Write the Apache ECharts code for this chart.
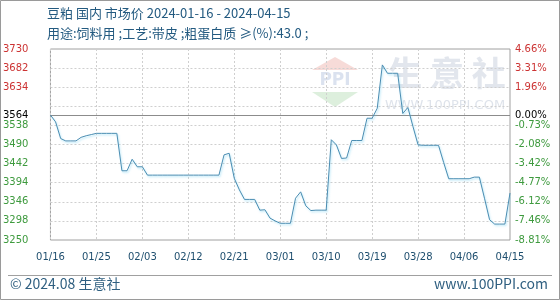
<!DOCTYPE html>
<html>
<head>
<meta charset="utf-8">
<script src="https://cdn.jsdelivr.net/npm/echarts@6/dist/echarts.min.js"></script>
<style>
html,body{margin:0;padding:0;background:#fff;}
#chart{width:560px;height:300px;}
</style>
</head>
<body>
<div id="chart"></div>
<script>
// ---- data ----
const titleLine1 = '豆粕 国内 市场价 2024-01-16 - 2024-04-15';
const titleLine2 = '用途:饲料用 ;工艺:带皮 ;粗蛋白质 ≥(%):43.0 ;';
const footerLeft = '© 2024.08 生意社';
const footerRight = 'www.100PPI.com';
const basePrice = 3564;
const startDate = '2024-01-16';
const dayCount = 91;
const prices = [
  3564,3547,3505,3499,3499,3499,3508,3512,3515,3518,
  3518,3518,3518,3518,3424,3424,3453,3434,3434,3413,
  3413,3413,3413,3413,3413,3413,3413,3413,3413,3413,
  3413,3413,3413,3413,3464,3468,3405,3376,3352,3352,
  3352,3325,3326,3305,3298,3292,3292,3292,3355,3371,
  3336,3324,3325,3325,3325,3502,3489,3455,3456,3500,
  3500,3500,3556,3556,3581,3690,3669,3669,3669,3568,
  3583,3535,3489,3488,3488,3488,3488,3445,3404,3404,
  3404,3404,3404,3408,3408,3355,3301,3290,3290,3290,
  3368
];
const yMin = 3250;
const yMax = 3730;
const yLabelValues = [3250,3298,3346,3394,3442,3490,3538,3564,3634,3682,3730];
const yGridValues = [3298,3346,3394,3442,3490,3538,3586,3634,3682];

// categories (consecutive calendar days)
const categories = [];
(function(){
  const d = new Date(startDate + 'T00:00:00Z');
  for (let i = 0; i < dayCount; i++) {
    const m = String(d.getUTCMonth() + 1).padStart(2, '0');
    const dd = String(d.getUTCDate()).padStart(2, '0');
    categories.push(m + '/' + dd);
    d.setUTCDate(d.getUTCDate() + 1);
  }
})();

// ---- styles ----
const axisFont = '"DejaVu Sans", sans-serif';
const cjkFont = '"Noto Sans CJK SC", "Noto Sans", sans-serif';
const upColor = '#cc3333';
const downColor = '#3e9a3e';
const baseColor = '#000000';
function labelColor(v) {
  v = Number(v);
  if (Math.abs(v - basePrice) < 0.5) return baseColor;
  return v > basePrice ? upColor : downColor;
}

const chart = echarts.init(document.getElementById('chart'), null, {renderer: 'canvas'});

const markData = yGridValues.map(v => ({
  yAxis: v,
  lineStyle: {type: [2, 2], color: '#cfcfcf', width: 1}
}));
markData.push({yAxis: basePrice, lineStyle: {type: 'solid', color: '#8c8c8c', width: 1}});

chart.setOption({
  animation: false,
  backgroundColor: '#ffffff',
  grid: {
    left: 50, right: 50, top: 49, bottom: 60,
    show: true, borderColor: '#a0a0a0', borderWidth: 1, backgroundColor: 'transparent'
  },
  xAxis: {
    type: 'category',
    data: categories,
    boundaryGap: false,
    axisLine: {show: false},
    axisTick: {show: false},
    axisLabel: {
      interval: 8, margin: 12, color: '#1e4e6e',
      fontFamily: axisFont, fontSize: 10
    },
    splitLine: {show: true, interval: 8, lineStyle: {type: [2, 2], color: '#cfcfcf', width: 1}}
  },
  yAxis: [
    {
      type: 'value', min: yMin, max: yMax, position: 'left',
      axisLine: {show: false}, axisTick: {show: false}, splitLine: {show: false},
      axisLabel: {
        customValues: yLabelValues,
        margin: 22, fontFamily: axisFont, fontSize: 10,
        color: labelColor,
        formatter: v => String(v)
      }
    },
    {
      type: 'value', min: yMin, max: yMax, position: 'right',
      axisLine: {show: false}, axisTick: {show: false}, splitLine: {show: false},
      axisLabel: {
        customValues: yLabelValues,
        margin: 5, fontFamily: axisFont, fontSize: 10,
        color: labelColor,
        formatter: v => ((v - basePrice) / basePrice * 100).toFixed(2) + '%'
      }
    }
  ],
  graphic: [
    {type: 'rect', silent: true, z: -10, shape: {x: 0.5, y: 0.5, width: 559, height: 299},
     style: {fill: 'none', stroke: '#9a9a9a', lineWidth: 1}},
    {type: 'line', silent: true, shape: {x1: 8, y1: 275.5, x2: 552, y2: 275.5},
     style: {stroke: '#a0a0a0', lineWidth: 1}},
    {type: 'text', left: 47, top: 7, silent: true,
     style: {text: titleLine1, font: '13px ' + cjkFont, fill: '#235a80'}},
    {type: 'text', left: 47, top: 27, silent: true,
     style: {text: titleLine2, font: '13px ' + cjkFont, fill: '#235a80'}},
    {type: 'text', left: 10, top: 277, silent: true,
     style: {text: footerLeft, font: '14px ' + cjkFont, fill: '#2f5f80'}},
    {type: 'text', right: 12, top: 277, silent: true,
     style: {text: footerRight, font: '14px ' + cjkFont, fill: '#2f5f80'}},
    // watermark
    {type: 'polygon', silent: true, z: -5, shape: {points: [[312, 70], [335, 57], [358, 70]]},
     style: {fill: 'rgba(225,110,100,0.25)'}},
    {type: 'text', silent: true, z: -5, x: 335, y: 81,
     style: {text: 'PPI', font: 'bold 17px "DejaVu Sans", sans-serif', fill: 'rgba(110,140,190,0.25)', align: 'center', verticalAlign: 'middle'}},
    {type: 'polygon', silent: true, z: -5, shape: {points: [[312, 92], [358, 92], [335, 107]]},
     style: {fill: 'rgba(120,190,120,0.25)'}},
    {type: 'text', silent: true, z: -5, x: 447, y: 73,
     style: {text: '生 意 社', font: 'bold 34px ' + cjkFont, fill: 'rgba(190,200,215,0.45)', align: 'center', verticalAlign: 'middle'}},
    {type: 'text', silent: true, z: -5, x: 445, y: 106,
     style: {text: 'WWW.100PPI.COM', font: '13px "DejaVu Sans", sans-serif', fill: 'rgba(190,200,215,0.5)', align: 'center', verticalAlign: 'middle'}}
  ],
  series: [{
    type: 'line',
    data: prices,
    yAxisIndex: 0,
    symbol: 'none',
    smooth: false,
    lineStyle: {
      color: '#4a8db2', width: 1,
      shadowColor: 'rgba(110,205,240,0.55)', shadowBlur: 2, shadowOffsetX: 1, shadowOffsetY: 1.5
    },
    markLine: {
      silent: true, symbol: 'none',
      label: {show: false},
      data: markData,
      z: 1
    },
    z: 3
  }]
});
</script>
</body>
</html>
